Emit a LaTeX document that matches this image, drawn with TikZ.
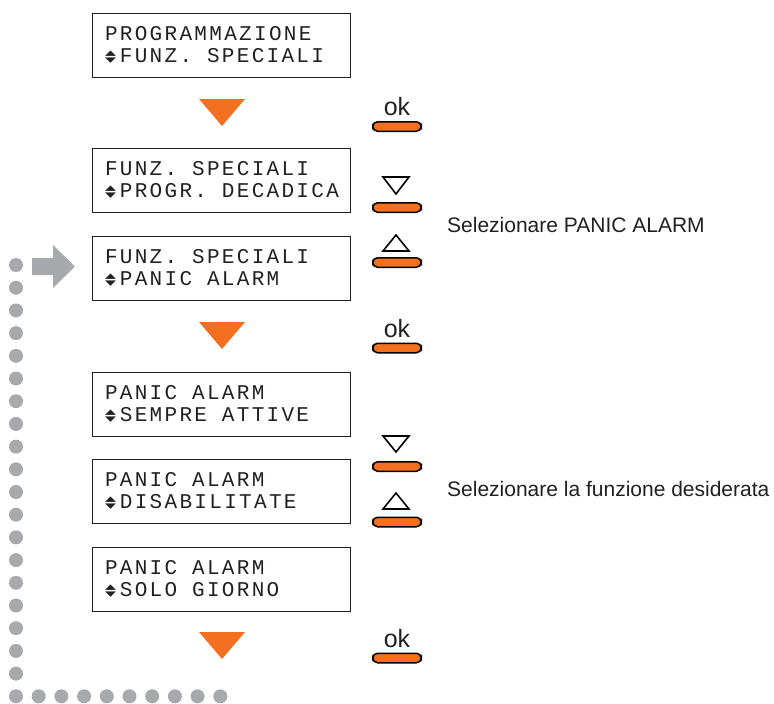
\documentclass[tikz,border=0pt]{standalone}
\usepackage{fontspec}
\usepackage{graphicx}
\setmainfont{Liberation Sans}
\newfontfamily\lcdfont[LetterSpace=11]{Liberation Mono}
\newfontfamily\symfont{DejaVu Sans}
\usetikzlibrary{positioning}
\usepackage{xcolor}
\definecolor{KeyOrange}{RGB}{243,112,33}
\definecolor{LoopGrey}{RGB}{167,169,172}
\definecolor{InkGrey}{RGB}{35,31,32}
\newcommand{\lcdsetup}{\lcdfont\fontsize{21}{22}\selectfont}
\newcommand{\scrollmark}{\makebox[14.9pt][l]{\symfont\fontsize{13}{13}\selectfont\rlap{\raisebox{7.5pt}{\scalebox{1.1}[0.55]{▲}}}\scalebox{1.1}[0.55]{▼}}}

\begin{document}
\begin{tikzpicture}[x=1pt, y=-1pt,
  display/.style={draw=InkGrey, line width=1pt, minimum width=258pt, minimum height=64pt, inner xsep=13pt, text width=232pt, align=left, text=InkGrey, font=\lcdsetup, execute at begin node={\spaceskip 14.9pt\relax}},
  btn/.style={draw=black, line width=1.5pt, fill=KeyOrange, rounded corners=4.8pt, minimum width=48.5pt, minimum height=9.5pt, inner sep=0pt},
  oklabel/.style={inner sep=0pt, text=InkGrey, font=\fontsize{25}{25}\selectfont},
  hint/.style={inner sep=0pt, anchor=base west, text=InkGrey, font=\fontsize{21}{21}\selectfont}]
\useasboundingbox (0,0) rectangle (774,704);
% displays
\node[display] (p1) at (221,45) {PROGRAMMAZIONE\\\scrollmark FUNZ. SPECIALI};
\node[display, below=70pt of p1] (p2) {FUNZ. SPECIALI\\\scrollmark PROGR. DECADICA};
\node[display, below=23pt of p2] (p3) {FUNZ. SPECIALI\\\scrollmark PANIC ALARM};
\node[display, below=71pt of p3] (p4) {PANIC ALARM\\\scrollmark SEMPRE ATTIVE};
\node[display, below=22pt of p4] (p5) {PANIC ALARM\\\scrollmark DISABILITATE};
\node[display, below=23pt of p5] (p6) {PANIC ALARM\\\scrollmark SOLO GIORNO};
% orange steps
\fill[KeyOrange] (199,99) -- (245,99) -- (222,126) -- cycle;
\fill[KeyOrange] (199,322) -- (245,322) -- (222,349) -- cycle;
\fill[KeyOrange] (199,632) -- (245,632) -- (222,659) -- cycle;
% keys
\node[btn] (k1) at (397,126.5) {};
\node[oklabel, above=5pt of k1] (ok1) {ok};
\node[btn] (k2) at (397,207.5) {};
\node[btn] (k3) at (397,262.5) {};
\node[btn] (k4) at (397,348) {};
\node[oklabel, above=5pt of k4] (ok4) {ok};
\node[btn] (k5) at (397,466.5) {};
\node[btn] (k6) at (397,522) {};
\node[btn] (k7) at (397,658) {};
\node[oklabel, above=5pt of k7] (ok7) {ok};
\draw[line width=1.6pt] (383,177) -- (409,177) -- (396,194) -- cycle;
\draw[line width=1.6pt] (383,251) -- (409,251) -- (396,235) -- cycle;
\draw[line width=1.6pt] (383,436) -- (409,436) -- (396,452) -- cycle;
\draw[line width=1.6pt] (383,509) -- (409,509) -- (396,493) -- cycle;
\node[hint] (h1) at (447,232) {Selezionare PANIC ALARM};
\node[hint] (h2) at (447,496) {Selezionare la funzione desiderata};
% loop back
\foreach \i in {0,...,19}
  \fill[LoopGrey] (16,265+22.7*\i) circle (7);
\foreach \i in {1,...,9}
  \fill[LoopGrey] (16+22.7*\i,696.3) circle (7);
\fill[LoopGrey] (32,258) -- (53,258) -- (53,245) -- (75,266.5) -- (53,288) -- (53,275) -- (32,275) -- cycle;
\end{tikzpicture}
\end{document}
